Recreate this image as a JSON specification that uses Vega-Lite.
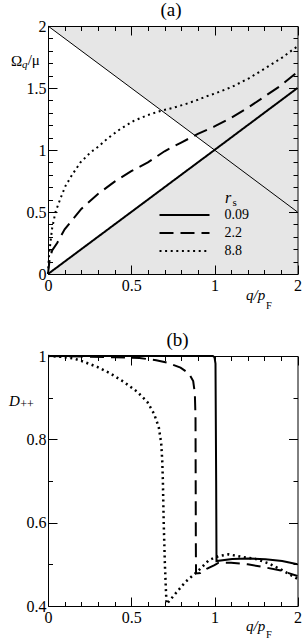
{
  "$schema": "https://vega.github.io/schema/vega-lite/v6.json",
  "padding": {"left": 8, "top": 0, "right": 0, "bottom": 0},
  "bounds": "flush",
  "spacing": 82,
  "config": {
    "font": "Liberation Serif",
    "view": {"stroke": null},
    "axis": {"labelFont": "Liberation Serif", "titleFont": "Liberation Serif", "labelFontSize": 16, "labelColor": "black", "tickColor": "black", "domainColor": "black", "titleColor": "black", "grid": false, "labelOverlap": false, "labelFlush": false, "titleFontWeight": "normal", "tickWidth": 1, "domainWidth": 1},
    "legend": {"labelFont": "Liberation Serif", "titleFont": "Liberation Serif", "labelColor": "black", "titleColor": "black", "titleFontWeight": "normal"}
  },
  "datasets": {
    "curvesA": [
      {"q": 0, "w": 0, "s": "0.09"}, {"q": 1, "w": 1, "s": "0.09"}, {"q": 2, "w": 1.5, "s": "0.09"},
      {"q": 0, "w": 0, "s": "2.2"}, {"q": 0.01, "w": 0.12, "s": "2.2"}, {"q": 0.025, "w": 0.19, "s": "2.2"}, {"q": 0.055, "w": 0.25, "s": "2.2"}, {"q": 0.1, "w": 0.36, "s": "2.2"}, {"q": 0.2, "w": 0.525, "s": "2.2"}, {"q": 0.3, "w": 0.645, "s": "2.2"}, {"q": 0.4, "w": 0.745, "s": "2.2"}, {"q": 0.5, "w": 0.83, "s": "2.2"}, {"q": 0.6, "w": 0.9, "s": "2.2"}, {"q": 0.7, "w": 0.99, "s": "2.2"}, {"q": 0.8, "w": 1.06, "s": "2.2"}, {"q": 0.9, "w": 1.13, "s": "2.2"}, {"q": 1.0, "w": 1.19, "s": "2.2"}, {"q": 1.2, "w": 1.26, "s": "2.2"}, {"q": 1.4, "w": 1.34, "s": "2.2"}, {"q": 1.6, "w": 1.43, "s": "2.2"}, {"q": 1.8, "w": 1.52, "s": "2.2"}, {"q": 2.0, "w": 1.63, "s": "2.2"},
      {"q": 0, "w": 0, "s": "8.8"}, {"q": 0.005, "w": 0.13, "s": "8.8"}, {"q": 0.015, "w": 0.26, "s": "8.8"}, {"q": 0.025, "w": 0.37, "s": "8.8"}, {"q": 0.045, "w": 0.5, "s": "8.8"}, {"q": 0.075, "w": 0.61, "s": "8.8"}, {"q": 0.105, "w": 0.71, "s": "8.8"}, {"q": 0.145, "w": 0.8, "s": "8.8"}, {"q": 0.195, "w": 0.9, "s": "8.8"}, {"q": 0.255, "w": 0.98, "s": "8.8"}, {"q": 0.305, "w": 1.03, "s": "8.8"}, {"q": 0.355, "w": 1.09, "s": "8.8"}, {"q": 0.435, "w": 1.17, "s": "8.8"}, {"q": 0.515, "w": 1.235, "s": "8.8"}, {"q": 0.596, "w": 1.28, "s": "8.8"}, {"q": 0.676, "w": 1.315, "s": "8.8"}, {"q": 0.75, "w": 1.34, "s": "8.8"}, {"q": 0.826, "w": 1.37, "s": "8.8"}, {"q": 0.9, "w": 1.405, "s": "8.8"}, {"q": 0.946, "w": 1.43, "s": "8.8"}, {"q": 1.012, "w": 1.457, "s": "8.8"}, {"q": 1.213, "w": 1.51, "s": "8.8"}, {"q": 1.414, "w": 1.578, "s": "8.8"}, {"q": 1.614, "w": 1.66, "s": "8.8"}, {"q": 1.815, "w": 1.745, "s": "8.8"}, {"q": 1.955, "w": 1.815, "s": "8.8"}, {"q": 2, "w": 1.835, "s": "8.8"}
    ],
    "curvesB": [
      {"q": 0, "d": 1, "s": "0.09"}, {"q": 0.99, "d": 1, "s": "0.09"}, {"q": 1.0, "d": 0.997, "s": "0.09"}, {"q": 1.012, "d": 0.982, "s": "0.09"}, {"q": 1.02, "d": 0.7, "s": "0.09"}, {"q": 1.024, "d": 0.508, "s": "0.09"}, {"q": 1.213, "d": 0.513, "s": "0.09"}, {"q": 1.414, "d": 0.514, "s": "0.09"}, {"q": 1.614, "d": 0.512, "s": "0.09"}, {"q": 1.815, "d": 0.508, "s": "0.09"}, {"q": 2, "d": 0.5, "s": "0.09"},
      {"q": 0, "d": 1, "s": "2.2"}, {"q": 0.2, "d": 0.999, "s": "2.2"}, {"q": 0.4, "d": 0.997, "s": "2.2"}, {"q": 0.55, "d": 0.995, "s": "2.2"}, {"q": 0.65, "d": 0.99, "s": "2.2"}, {"q": 0.715, "d": 0.984, "s": "2.2"}, {"q": 0.796, "d": 0.972, "s": "2.2"}, {"q": 0.846, "d": 0.958, "s": "2.2"}, {"q": 0.872, "d": 0.94, "s": "2.2"}, {"q": 0.882, "d": 0.91, "s": "2.2"}, {"q": 0.886, "d": 0.85, "s": "2.2"}, {"q": 0.887, "d": 0.7, "s": "2.2"}, {"q": 0.888, "d": 0.55, "s": "2.2"}, {"q": 0.889, "d": 0.478, "s": "2.2"}, {"q": 0.916, "d": 0.479, "s": "2.2"}, {"q": 0.956, "d": 0.49, "s": "2.2"}, {"q": 1.0, "d": 0.498, "s": "2.2"}, {"q": 1.05, "d": 0.504, "s": "2.2"}, {"q": 1.2, "d": 0.504, "s": "2.2"}, {"q": 1.4, "d": 0.5, "s": "2.2"}, {"q": 1.6, "d": 0.493, "s": "2.2"}, {"q": 1.8, "d": 0.485, "s": "2.2"}, {"q": 2, "d": 0.472, "s": "2.2"},
      {"q": 0, "d": 1, "s": "8.8"}, {"q": 0.08, "d": 0.998, "s": "8.8"}, {"q": 0.155, "d": 0.994, "s": "8.8"}, {"q": 0.215, "d": 0.986, "s": "8.8"}, {"q": 0.295, "d": 0.974, "s": "8.8"}, {"q": 0.375, "d": 0.958, "s": "8.8"}, {"q": 0.455, "d": 0.938, "s": "8.8"}, {"q": 0.536, "d": 0.914, "s": "8.8"}, {"q": 0.596, "d": 0.89, "s": "8.8"}, {"q": 0.636, "d": 0.862, "s": "8.8"}, {"q": 0.665, "d": 0.83, "s": "8.8"}, {"q": 0.68, "d": 0.79, "s": "8.8"}, {"q": 0.686, "d": 0.75, "s": "8.8"}, {"q": 0.69, "d": 0.7, "s": "8.8"}, {"q": 0.695, "d": 0.6, "s": "8.8"}, {"q": 0.702, "d": 0.5, "s": "8.8"}, {"q": 0.708, "d": 0.44, "s": "8.8"}, {"q": 0.712, "d": 0.405, "s": "8.8"}, {"q": 0.72, "d": 0.408, "s": "8.8"}, {"q": 0.766, "d": 0.43, "s": "8.8"}, {"q": 0.826, "d": 0.458, "s": "8.8"}, {"q": 0.906, "d": 0.486, "s": "8.8"}, {"q": 0.966, "d": 0.51, "s": "8.8"}, {"q": 1.052, "d": 0.52, "s": "8.8"}, {"q": 1.17, "d": 0.524, "s": "8.8"}, {"q": 1.33, "d": 0.518, "s": "8.8"}, {"q": 1.494, "d": 0.513, "s": "8.8"}, {"q": 1.655, "d": 0.502, "s": "8.8"}, {"q": 1.815, "d": 0.486, "s": "8.8"}, {"q": 2, "d": 0.465, "s": "8.8"}
    ]
  },
  "vconcat": [
    {
      "width": 249.5,
      "height": 248,
      "resolve": {"axis": {"x": "independent", "y": "independent"}},
      "layer": [
        {
          "data": {"values": [{"q": 0, "lo": 0, "hi": 2}, {"q": 2, "lo": 0, "hi": 2}]},
          "mark": {"type": "area", "color": "#e6e6e6"},
          "encoding": {
            "x": {"field": "q", "type": "quantitative", "scale": {"domain": [0, 1, 2], "range": [0, 166.5, 249.5], "nice": false, "zero": false},
              "axis": {"orient": "bottom", "zindex": 1, "values": [0, 0.1, 0.2, 0.3, 0.4, 0.5, 0.6, 0.7, 0.8, 0.9, 1, 1.2, 1.4, 1.6, 1.8, 2], "format": "~g",
                "labelExpr": "(datum.value==0||datum.value==0.5||datum.value==1||datum.value==2) ? datum.label : ''",
                "tickSize": {"condition": {"test": "datum.value==0||datum.value==0.5||datum.value==1||datum.value==2", "value": -9}, "value": -4.5},
                "labelPadding": 12, "title": "q/p", "titleFontStyle": "italic", "titleFontSize": 15, "titleAlign": "left", "titleBaseline": "alphabetic", "titleX": 197.5, "titleY": 25}},
            "y": {"field": "lo", "type": "quantitative", "scale": {"domain": [0, 2], "nice": false, "zero": false},
              "axis": {"orient": "left", "zindex": 1, "values": [0, 0.1, 0.2, 0.3, 0.4, 0.5, 0.6, 0.7, 0.8, 0.9, 1, 1.1, 1.2, 1.3, 1.4, 1.5, 1.6, 1.7, 1.8, 1.9, 2], "format": "~g",
                "labelExpr": "abs(datum.value*2-round(datum.value*2))<1e-6 ? datum.label : ''",
                "tickSize": {"condition": {"test": "abs(datum.value*2-round(datum.value*2))<1e-6", "value": -9}, "value": -4.5},
                "labelPadding": 11, "title": "Ω", "titleAngle": 0, "titleAlign": "left", "titleBaseline": "alphabetic", "titleX": -37.5, "titleY": 39, "titleFontSize": 15}},
            "y2": {"field": "hi"}
          }
        },
        {
          "data": {"values": [{"q": 0, "lo": 0, "hi": 2}, {"q": 1, "lo": 1, "hi": 1}]},
          "mark": {"type": "area", "color": "white"},
          "encoding": {
            "x": {"field": "q", "type": "quantitative",
              "axis": {"orient": "top", "zindex": 1, "values": [0, 0.1, 0.2, 0.3, 0.4, 0.5, 0.6, 0.7, 0.8, 0.9, 1, 1.2, 1.4, 1.6, 1.8, 2], "labels": false,
                "tickSize": {"condition": {"test": "datum.value==0||datum.value==0.5||datum.value==1||datum.value==2", "value": -9}, "value": -4.5},
                "title": "F", "titleFontSize": 10.5, "titleAlign": "left", "titleBaseline": "alphabetic", "titleX": 217.5, "titleY": 282}},
            "y": {"field": "lo", "type": "quantitative",
              "axis": {"orient": "right", "zindex": 1, "values": [0, 0.1, 0.2, 0.3, 0.4, 0.5, 0.6, 0.7, 0.8, 0.9, 1, 1.1, 1.2, 1.3, 1.4, 1.5, 1.6, 1.7, 1.8, 1.9, 2], "labels": false,
                "tickSize": {"condition": {"test": "abs(datum.value*2-round(datum.value*2))<1e-6", "value": -9}, "value": -4.5},
                "title": "q", "titleFontStyle": "italic", "titleFontSize": 11, "titleAngle": 0, "titleAlign": "left", "titleBaseline": "alphabetic", "titleX": -276, "titleY": 41}},
            "y2": {"field": "hi"}
          }
        },
        {
          "data": {"values": [{"q": 0, "w": 2}, {"q": 1, "w": 1}, {"q": 2, "w": 0.5}]},
          "mark": {"type": "line", "color": "black", "strokeWidth": 1},
          "encoding": {
            "x": {"field": "q", "type": "quantitative",
              "axis": {"orient": "top", "zindex": 1, "ticks": false, "labels": false, "domain": false, "title": "(a)", "titleFontSize": 19, "titleAlign": "center", "titleBaseline": "alphabetic", "titleX": 122.5, "titleY": -11}},
            "y": {"field": "w", "type": "quantitative",
              "axis": {"orient": "left", "zindex": 1, "ticks": false, "labels": false, "domain": false, "title": "/μ", "titleAngle": 0, "titleAlign": "left", "titleBaseline": "alphabetic", "titleX": -20.8, "titleY": 38.5, "titleFontSize": 15}}
          }
        },
        {
          "data": {"name": "curvesA"},
          "mark": {"type": "line", "color": "black", "strokeWidth": 2},
          "encoding": {
            "x": {"field": "q", "type": "quantitative",
              "axis": {"orient": "top", "zindex": 2, "ticks": false, "labels": false, "domain": false, "title": "s", "titleFontSize": 11, "titleAlign": "left", "titleBaseline": "alphabetic", "titleX": 184, "titleY": 179}},
            "y": {"field": "w", "type": "quantitative",
              "axis": {"orient": "right", "zindex": 2, "ticks": false, "labels": false, "domain": false, "title": "r", "titleFontStyle": "italic", "titleFontSize": 16, "titleAngle": 0, "titleAlign": "left", "titleBaseline": "alphabetic", "titleX": -73, "titleY": 176}},
            "strokeDash": {"field": "s", "type": "nominal",
              "scale": {"domain": ["0.09", "2.2", "8.8"], "range": [[1, 0], [14, 7], [2, 3.6]]},
              "legend": {"orient": "none", "legendX": 110.5, "legendY": 181, "title": null,
                "symbolType": "stroke", "symbolSize": 2500, "symbolStrokeWidth": 2, "symbolStrokeColor": "black", "clipHeight": 16, "rowPadding": 2, "labelFontSize": 14, "labelOffset": 14}}
          }
        }
      ]
    },
    {
      "width": 249.5,
      "height": 250,
      "resolve": {"axis": {"x": "independent", "y": "independent"}},
      "data": {"name": "curvesB"},
      "layer": [
        {
          "transform": [{"filter": "datum.s == '0.09'"}],
          "mark": {"type": "line", "color": "black", "strokeWidth": 2},
          "encoding": {
            "x": {"field": "q", "type": "quantitative", "scale": {"domain": [0, 1, 2], "range": [0, 166.5, 249.5], "nice": false, "zero": false},
              "axis": {"orient": "bottom", "zindex": 1, "values": [0, 0.1, 0.2, 0.3, 0.4, 0.5, 0.6, 0.7, 0.8, 0.9, 1, 1.2, 1.4, 1.6, 1.8, 2], "format": "~g",
                "labelExpr": "(datum.value==0||datum.value==0.5||datum.value==1||datum.value==2) ? datum.label : ''",
                "tickSize": {"condition": {"test": "datum.value==0||datum.value==0.5||datum.value==1||datum.value==2", "value": -9}, "value": -4.5},
                "labelPadding": 12, "title": "q/p", "titleFontStyle": "italic", "titleFontSize": 15, "titleAlign": "left", "titleBaseline": "alphabetic", "titleX": 197.5, "titleY": 24}},
            "y": {"field": "d", "type": "quantitative", "scale": {"domain": [0.4, 1], "nice": false, "zero": false},
              "axis": {"orient": "left", "zindex": 1, "values": [0.4, 0.5, 0.6, 0.7, 0.8, 0.9, 1], "format": "~g",
                "labelExpr": "abs(datum.value*5-round(datum.value*5))<1e-6 ? datum.label : ''",
                "tickSize": {"condition": {"test": "abs(datum.value*5-round(datum.value*5))<1e-6", "value": -9}, "value": -4.5},
                "labelPadding": 11, "title": "D", "titleFontStyle": "italic", "titleAngle": 0, "titleAlign": "left", "titleBaseline": "alphabetic", "titleX": -39.5, "titleY": 49, "titleFontSize": 15}}
          }
        },
        {
          "transform": [{"filter": "datum.s == '2.2'"}],
          "mark": {"type": "line", "color": "black", "strokeWidth": 2, "strokeDash": [14, 7]},
          "encoding": {
            "x": {"field": "q", "type": "quantitative",
              "axis": {"orient": "top", "zindex": 1, "values": [0, 0.1, 0.2, 0.3, 0.4, 0.5, 0.6, 0.7, 0.8, 0.9, 1, 1.2, 1.4, 1.6, 1.8, 2], "labels": false,
                "tickSize": {"condition": {"test": "datum.value==0||datum.value==0.5||datum.value==1||datum.value==2", "value": -9}, "value": -4.5},
                "title": "F", "titleFontSize": 10.5, "titleAlign": "left", "titleBaseline": "alphabetic", "titleX": 217.5, "titleY": 281}},
            "y": {"field": "d", "type": "quantitative",
              "axis": {"orient": "right", "zindex": 1, "values": [0.4, 0.5, 0.6, 0.7, 0.8, 0.9, 1], "labels": false,
                "tickSize": {"condition": {"test": "abs(datum.value*5-round(datum.value*5))<1e-6", "value": -9}, "value": -4.5},
                "title": "++", "titleFontSize": 12, "titleAngle": 0, "titleAlign": "left", "titleBaseline": "alphabetic", "titleX": -277.7, "titleY": 51.5}}
          }
        },
        {
          "transform": [{"filter": "datum.s == '8.8'"}],
          "mark": {"type": "line", "color": "black", "strokeWidth": 2.5, "strokeDash": [2, 3.6]},
          "encoding": {
            "x": {"field": "q", "type": "quantitative",
              "axis": {"orient": "top", "zindex": 1, "ticks": false, "labels": false, "domain": false, "title": "(b)", "titleFontSize": 19, "titleAlign": "center", "titleBaseline": "alphabetic", "titleX": 129, "titleY": -11}},
            "y": {"field": "d", "type": "quantitative", "axis": null}
          }
        }
      ]
    }
  ]
}
